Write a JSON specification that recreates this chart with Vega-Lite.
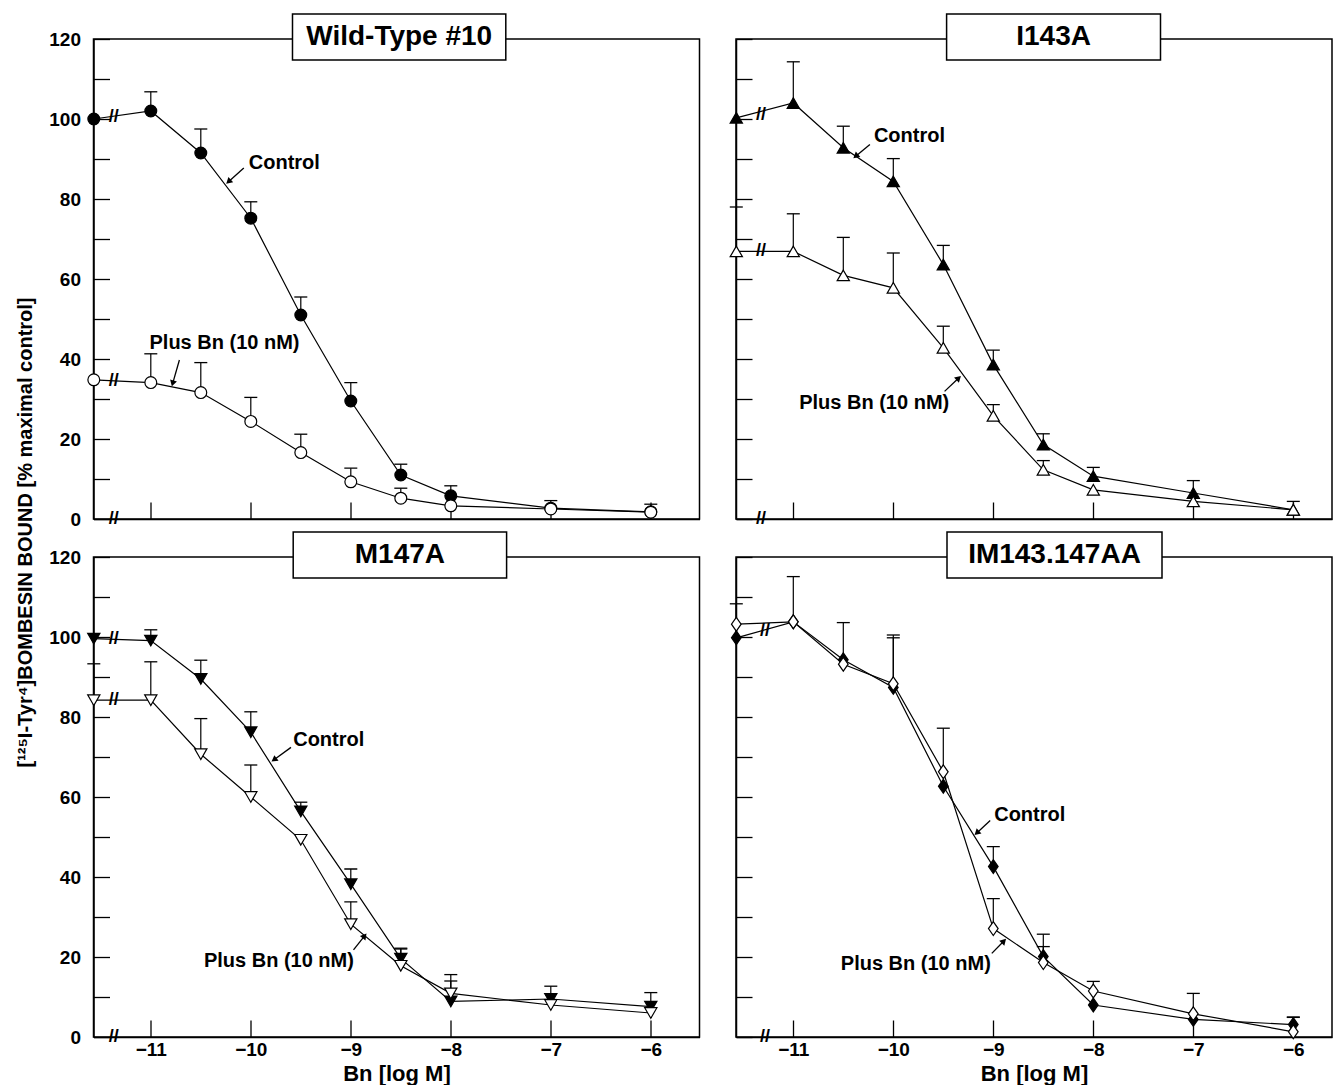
{
"$schema": "https://vega.github.io/schema/vega-lite/v6.json",
"background": "white",
"padding": {"left": 14.5, "top": 12, "right": 0, "bottom": 0},
"autosize": {"type": "pad"},
"config": {
 "font": "Liberation Sans",
 "view": {"stroke": "black", "strokeWidth": 1.5},
 "axis": {"domainColor": "black", "domainWidth": 1.5, "tickColor": "black", "tickWidth": 1.3, "labelFontWeight": "bold", "labelFontSize": 19, "labelColor": "black", "titleFontWeight": "bold", "titleFontSize": 20, "titleColor": "black", "grid": false, "labelFlush": false, "labelOverlap": false}
},
"datasets": {
 "pts": [
  {"p":"WT","s":"Control","x":-11.57,"y":100,"hi":null},
  {"p":"WT","s":"Control","x":-11,"y":102,"hi":106.8},
  {"p":"WT","s":"Control","x":-10.5,"y":91.5,"hi":97.5},
  {"p":"WT","s":"Control","x":-10,"y":75.2,"hi":79.3},
  {"p":"WT","s":"Control","x":-9.5,"y":51,"hi":55.5},
  {"p":"WT","s":"Control","x":-9,"y":29.5,"hi":34.1},
  {"p":"WT","s":"Control","x":-8.5,"y":11,"hi":13.7},
  {"p":"WT","s":"Control","x":-8,"y":5.8,"hi":8.3},
  {"p":"WT","s":"Control","x":-7,"y":2.7,"hi":4.6},
  {"p":"WT","s":"Control","x":-6,"y":1.8,"hi":3.7},
  {"p":"WT","s":"Plus","x":-11.57,"y":34.8,"hi":null},
  {"p":"WT","s":"Plus","x":-11,"y":34.1,"hi":41.3},
  {"p":"WT","s":"Plus","x":-10.5,"y":31.6,"hi":39.1},
  {"p":"WT","s":"Plus","x":-10,"y":24.4,"hi":30.4},
  {"p":"WT","s":"Plus","x":-9.5,"y":16.6,"hi":21.2},
  {"p":"WT","s":"Plus","x":-9,"y":9.3,"hi":12.7},
  {"p":"WT","s":"Plus","x":-8.5,"y":5.2,"hi":7.7},
  {"p":"WT","s":"Plus","x":-8,"y":3.3,"hi":null},
  {"p":"WT","s":"Plus","x":-7,"y":2.5,"hi":null},
  {"p":"WT","s":"Plus","x":-6,"y":1.7,"hi":null},
  {"p":"I143A","s":"Control","x":-11.57,"y":100.3,"hi":null},
  {"p":"I143A","s":"Control","x":-11,"y":104,"hi":114.3},
  {"p":"I143A","s":"Control","x":-10.5,"y":92.8,"hi":98.2},
  {"p":"I143A","s":"Control","x":-10,"y":84.4,"hi":90.1},
  {"p":"I143A","s":"Control","x":-9.5,"y":63.6,"hi":68.4},
  {"p":"I143A","s":"Control","x":-9,"y":38.6,"hi":42.2},
  {"p":"I143A","s":"Control","x":-8.5,"y":18.6,"hi":21.3},
  {"p":"I143A","s":"Control","x":-8,"y":10.7,"hi":12.9},
  {"p":"I143A","s":"Control","x":-7,"y":6.5,"hi":9.6},
  {"p":"I143A","s":"Control","x":-6,"y":2.3,"hi":4.4},
  {"p":"I143A","s":"Plus","x":-11.57,"y":66.9,"hi":78},
  {"p":"I143A","s":"Plus","x":-11,"y":66.9,"hi":76.3},
  {"p":"I143A","s":"Plus","x":-10.5,"y":60.9,"hi":70.4},
  {"p":"I143A","s":"Plus","x":-10,"y":57.8,"hi":66.5},
  {"p":"I143A","s":"Plus","x":-9.5,"y":42.8,"hi":48.2},
  {"p":"I143A","s":"Plus","x":-9,"y":25.8,"hi":28.6},
  {"p":"I143A","s":"Plus","x":-8.5,"y":12.3,"hi":14.6},
  {"p":"I143A","s":"Plus","x":-8,"y":7.3,"hi":null},
  {"p":"I143A","s":"Plus","x":-7,"y":4.4,"hi":null},
  {"p":"I143A","s":"Plus","x":-6,"y":2.3,"hi":null},
  {"p":"M147A","s":"Control","x":-11.57,"y":99.6,"hi":null},
  {"p":"M147A","s":"Control","x":-11,"y":99.1,"hi":101.8},
  {"p":"M147A","s":"Control","x":-10.5,"y":89.5,"hi":94.2},
  {"p":"M147A","s":"Control","x":-10,"y":76.2,"hi":81.3},
  {"p":"M147A","s":"Control","x":-9.5,"y":56.4,"hi":58.7},
  {"p":"M147A","s":"Control","x":-9,"y":38.2,"hi":42},
  {"p":"M147A","s":"Control","x":-8.5,"y":19.6,"hi":22.2},
  {"p":"M147A","s":"Control","x":-8,"y":8.9,"hi":15.6},
  {"p":"M147A","s":"Control","x":-7,"y":9.5,"hi":12.7},
  {"p":"M147A","s":"Control","x":-6,"y":7.6,"hi":11.1},
  {"p":"M147A","s":"Plus","x":-11.57,"y":84.2,"hi":93.3},
  {"p":"M147A","s":"Plus","x":-11,"y":84.2,"hi":93.8},
  {"p":"M147A","s":"Plus","x":-10.5,"y":70.7,"hi":79.6},
  {"p":"M147A","s":"Plus","x":-10,"y":60,"hi":68},
  {"p":"M147A","s":"Plus","x":-9.5,"y":49.3,"hi":null},
  {"p":"M147A","s":"Plus","x":-9,"y":28.2,"hi":33.8},
  {"p":"M147A","s":"Plus","x":-8.5,"y":17.8,"hi":22},
  {"p":"M147A","s":"Plus","x":-8,"y":10.9,"hi":14},
  {"p":"M147A","s":"Plus","x":-7,"y":8,"hi":null},
  {"p":"M147A","s":"Plus","x":-6,"y":6,"hi":null},
  {"p":"IM","s":"Control","x":-11.57,"y":99.8,"hi":null},
  {"p":"IM","s":"Control","x":-11,"y":103.8,"hi":115.1},
  {"p":"IM","s":"Control","x":-10.5,"y":94.3,"hi":103.6},
  {"p":"IM","s":"Control","x":-10,"y":87.4,"hi":100.5},
  {"p":"IM","s":"Control","x":-9.5,"y":62.7,"hi":null},
  {"p":"IM","s":"Control","x":-9,"y":42.6,"hi":47.6},
  {"p":"IM","s":"Control","x":-8.5,"y":20.1,"hi":22.6},
  {"p":"IM","s":"Control","x":-8,"y":8,"hi":null},
  {"p":"IM","s":"Control","x":-7,"y":4.4,"hi":null},
  {"p":"IM","s":"Control","x":-6,"y":3.1,"hi":4.9},
  {"p":"IM","s":"Plus","x":-11.57,"y":103.2,"hi":108.3},
  {"p":"IM","s":"Plus","x":-11,"y":103.8,"hi":null},
  {"p":"IM","s":"Plus","x":-10.5,"y":93.2,"hi":null},
  {"p":"IM","s":"Plus","x":-10,"y":88.3,"hi":99.8},
  {"p":"IM","s":"Plus","x":-9.5,"y":66.3,"hi":77.2},
  {"p":"IM","s":"Plus","x":-9,"y":27.1,"hi":34.6},
  {"p":"IM","s":"Plus","x":-8.5,"y":18.6,"hi":25.7},
  {"p":"IM","s":"Plus","x":-8,"y":11.5,"hi":13.9},
  {"p":"IM","s":"Plus","x":-7,"y":5.8,"hi":10.9},
  {"p":"IM","s":"Plus","x":-6,"y":1.3,"hi":5}
 ],
 "ann": [
  {"p":"WT","k":"box","t":"","x":-9.583,"y":126.25,"x2":-7.45,"y2":114.75},
  {"p":"WT","k":"title","t":"Wild-Type #10","x":-8.516,"y":120.5},
  {"p":"WT","k":"label","t":"Control","x":-10.02,"y":89},
  {"p":"WT","k":"label","t":"Plus Bn (10 nM)","x":-11.013,"y":43.9},
  {"p":"WT","k":"arrow","t":"","x":-10.223,"y":84.3,"x2":-10.07,"y2":87.75},
  {"p":"WT","k":"arrow","t":"","x":-10.781,"y":33.9,"x2":-10.714,"y2":39.75},
  {"p":"WT","k":"brk","t":"//","x":-11.37,"y":0},
  {"p":"WT","k":"brk","t":"//","x":-11.37,"y":100.5},
  {"p":"WT","k":"brk","t":"//","x":-11.37,"y":34.5},
  {"p":"I143A","k":"box","t":"","x":-9.467,"y":126.25,"x2":-7.328,"y2":114.75},
  {"p":"I143A","k":"title","t":"I143A","x":-8.397,"y":120.5},
  {"p":"I143A","k":"label","t":"Control","x":-10.194,"y":95.7},
  {"p":"I143A","k":"label","t":"Plus Bn (10 nM)","x":-10.941,"y":29},
  {"p":"I143A","k":"arrow","t":"","x":-10.376,"y":90.7,"x2":-10.234,"y2":93.6},
  {"p":"I143A","k":"arrow","t":"","x":-9.346,"y":35.25,"x2":-9.487,"y2":31.9},
  {"p":"I143A","k":"brk","t":"//","x":-11.324,"y":0},
  {"p":"I143A","k":"brk","t":"//","x":-11.324,"y":101},
  {"p":"I143A","k":"brk","t":"//","x":-11.324,"y":66.9},
  {"p":"M147A","k":"box","t":"","x":-9.576,"y":126.25,"x2":-7.442,"y2":114.75},
  {"p":"M147A","k":"title","t":"M147A","x":-8.509,"y":120.5},
  {"p":"M147A","k":"label","t":"Control","x":-9.576,"y":74.2},
  {"p":"M147A","k":"label","t":"Plus Bn (10 nM)","x":-10.469,"y":19.1},
  {"p":"M147A","k":"arrow","t":"","x":-9.768,"y":69.3,"x2":-9.598,"y2":72.4},
  {"p":"M147A","k":"arrow","t":"","x":-8.862,"y":25.3,"x2":-8.973,"y2":21.8},
  {"p":"M147A","k":"brk","t":"//","x":-11.37,"y":0},
  {"p":"M147A","k":"brk","t":"//","x":-11.37,"y":99.4},
  {"p":"M147A","k":"brk","t":"//","x":-11.37,"y":84.2},
  {"p":"IM","k":"box","t":"","x":-9.463,"y":126.25,"x2":-7.313,"y2":114.75},
  {"p":"IM","k":"title","t":"IM143.147AA","x":-8.388,"y":120.5},
  {"p":"IM","k":"label","t":"Control","x":-8.991,"y":55.6},
  {"p":"IM","k":"label","t":"Plus Bn (10 nM)","x":-10.525,"y":18.2},
  {"p":"IM","k":"arrow","t":"","x":-9.165,"y":51,"x2":-9.031,"y2":54.1},
  {"p":"IM","k":"arrow","t":"","x":-8.894,"y":24,"x2":-9.015,"y2":20.9},
  {"p":"IM","k":"brk","t":"//","x":-11.284,"y":0},
  {"p":"IM","k":"brk","t":"//","x":-11.284,"y":101.5}
 ]
},
"spacing": 26.5,
"hconcat": [
 {"vconcat": [
  {"width":606,"height":480,
   "encoding":{
    "x":{"field":"x","type":"quantitative","scale":{"domain":[-11.573,-5.513],"nice":false,"zero":false},"axis":{"values":[-11,-10,-9,-8,-7,-6],"tickSize":-17,"labels":false,"title":null}},
    "y":{"field":"y","type":"quantitative","scale":{"domain":[0,120],"nice":false,"zero":false},"axis":{"values":[0,10,20,30,40,50,60,70,80,90,100,110,120],"tickSize":-16,"labelPadding":29,"labelExpr":"datum.value % 20 == 0 ? datum.label : ''","title":"[¹²⁵I-Tyr⁴]BOMBESIN BOUND [% maximal control]","titleAngle":-90,"titleX":-68,"titleY":493,"titleAlign":"center","titleBaseline":"middle"}}
   },
   "layer":[
    {"data":{"name":"pts"},"transform":[{"filter":"datum.p=='WT'"}],"mark":{"type":"line","color":"black","strokeWidth":1.2},"encoding":{"detail":{"field":"s","type":"nominal"}}},
    {"data":{"name":"pts"},"transform":[{"filter":"datum.p=='WT' && isValid(datum.hi)"}],"mark":{"type":"rule","color":"black","strokeWidth":1.2},"encoding":{"y2":{"field":"hi"}}},
    {"data":{"name":"pts"},"transform":[{"filter":"datum.p=='WT' && isValid(datum.hi)"},{"fold":["hi"],"as":["kk","y"]}],"mark":{"type":"tick","orient":"horizontal","color":"black","thickness":1.3,"size":13,"opacity":1}},
    {"data":{"name":"pts"},"transform":[{"filter":"datum.p=='WT'"}],"mark":{"type":"point","filled":true,"stroke":"black","strokeWidth":1.2,"size":140,"opacity":1},"encoding":{
       "shape":{"field":"p","type":"nominal","scale":{"domain":["WT","I143A","M147A","IM"],"range":["circle","triangle-up","triangle-down","M0,-1L0.7,0L0,1L-0.7,0Z"]},"legend":null},
       "fill":{"field":"s","type":"nominal","scale":{"domain":["Control","Plus"],"range":["black","white"]},"legend":null}}},
    {"data":{"name":"ann"},"transform":[{"filter":"datum.p=='WT' && datum.k=='box'"}],"mark":{"type":"rect","fill":"white","stroke":"black","strokeWidth":1.5},"encoding":{"x2":{"field":"x2"},"y2":{"field":"y2"}}},
    {"data":{"name":"ann"},"transform":[{"filter":"datum.p=='WT' && datum.k=='title'"}],"mark":{"type":"text","fontSize":28,"fontWeight":"bold","align":"center","baseline":"middle","color":"black"},"encoding":{"text":{"field":"t","type":"nominal"}}},
    {"data":{"name":"ann"},"transform":[{"filter":"datum.p=='WT' && datum.k=='label'"}],"mark":{"type":"text","fontSize":20,"fontWeight":"bold","align":"left","baseline":"middle","color":"black"},"encoding":{"text":{"field":"t","type":"nominal"}}},
    {"data":{"name":"ann"},"transform":[{"filter":"datum.p=='WT' && datum.k=='brk'"}],"mark":{"type":"text","fontSize":18,"fontWeight":"bold","align":"center","baseline":"middle","color":"black"},"encoding":{"text":{"field":"t","type":"nominal"}}},
    {"data":{"name":"ann"},"transform":[{"filter":"datum.p=='WT' && datum.k=='arrow'"}],"mark":{"type":"rule","color":"black","strokeWidth":1.3},"encoding":{"x2":{"field":"x2"},"y2":{"field":"y2"}}},
    {"data":{"name":"ann"},"transform":[{"filter":"datum.p=='WT' && datum.k=='arrow'"},{"calculate":"atan2((datum.x-datum.x2)*100,(datum.y-datum.y2)*4)*180/PI","as":"ang"}],"mark":{"type":"point","shape":"triangle-up","filled":true,"color":"black","size":50,"opacity":1},"encoding":{"angle":{"field":"ang","type":"quantitative","scale":null}}}
   ]},
  {"width":606,"height":480,
   "encoding":{
    "x":{"field":"x","type":"quantitative","scale":{"domain":[-11.573,-5.513],"nice":false,"zero":false},"axis":{"values":[-11,-10,-9,-8,-7,-6],"tickSize":-17,"labelPadding":20,"labelExpr":"replace(datum.label,'-','−')","title":"Bn [log M]","titleFontSize":22,"titlePadding":4}},
    "y":{"field":"y","type":"quantitative","scale":{"domain":[0,120],"nice":false,"zero":false},"axis":{"values":[0,10,20,30,40,50,60,70,80,90,100,110,120],"tickSize":-16,"labelPadding":29,"labelExpr":"datum.value % 20 == 0 ? datum.label : ''","title":null}}
   },
   "layer":[
    {"data":{"name":"pts"},"transform":[{"filter":"datum.p=='M147A'"}],"mark":{"type":"line","color":"black","strokeWidth":1.2},"encoding":{"detail":{"field":"s","type":"nominal"}}},
    {"data":{"name":"pts"},"transform":[{"filter":"datum.p=='M147A' && isValid(datum.hi)"}],"mark":{"type":"rule","color":"black","strokeWidth":1.2},"encoding":{"y2":{"field":"hi"}}},
    {"data":{"name":"pts"},"transform":[{"filter":"datum.p=='M147A' && isValid(datum.hi)"},{"fold":["hi"],"as":["kk","y"]}],"mark":{"type":"tick","orient":"horizontal","color":"black","thickness":1.3,"size":13,"opacity":1}},
    {"data":{"name":"pts"},"transform":[{"filter":"datum.p=='M147A'"}],"mark":{"type":"point","filled":true,"stroke":"black","strokeWidth":1.2,"size":150,"opacity":1},"encoding":{
       "shape":{"field":"p","type":"nominal","scale":{"domain":["WT","I143A","M147A","IM"],"range":["circle","triangle-up","triangle-down","M0,-1L0.7,0L0,1L-0.7,0Z"]},"legend":null},
       "fill":{"field":"s","type":"nominal","scale":{"domain":["Control","Plus"],"range":["black","white"]},"legend":null}}},
    {"data":{"name":"ann"},"transform":[{"filter":"datum.p=='M147A' && datum.k=='box'"}],"mark":{"type":"rect","fill":"white","stroke":"black","strokeWidth":1.5},"encoding":{"x2":{"field":"x2"},"y2":{"field":"y2"}}},
    {"data":{"name":"ann"},"transform":[{"filter":"datum.p=='M147A' && datum.k=='title'"}],"mark":{"type":"text","fontSize":28,"fontWeight":"bold","align":"center","baseline":"middle","color":"black"},"encoding":{"text":{"field":"t","type":"nominal"}}},
    {"data":{"name":"ann"},"transform":[{"filter":"datum.p=='M147A' && datum.k=='label'"}],"mark":{"type":"text","fontSize":20,"fontWeight":"bold","align":"left","baseline":"middle","color":"black"},"encoding":{"text":{"field":"t","type":"nominal"}}},
    {"data":{"name":"ann"},"transform":[{"filter":"datum.p=='M147A' && datum.k=='brk'"}],"mark":{"type":"text","fontSize":18,"fontWeight":"bold","align":"center","baseline":"middle","color":"black"},"encoding":{"text":{"field":"t","type":"nominal"}}},
    {"data":{"name":"ann"},"transform":[{"filter":"datum.p=='M147A' && datum.k=='arrow'"}],"mark":{"type":"rule","color":"black","strokeWidth":1.3},"encoding":{"x2":{"field":"x2"},"y2":{"field":"y2"}}},
    {"data":{"name":"ann"},"transform":[{"filter":"datum.p=='M147A' && datum.k=='arrow'"},{"calculate":"atan2((datum.x-datum.x2)*100,(datum.y-datum.y2)*4)*180/PI","as":"ang"}],"mark":{"type":"point","shape":"triangle-up","filled":true,"color":"black","size":50,"opacity":1},"encoding":{"angle":{"field":"ang","type":"quantitative","scale":null}}}
   ]}
 ], "spacing": 38, "bounds": "flush"},
 {"vconcat": [
  {"width":596,"height":480,
   "encoding":{
    "x":{"field":"x","type":"quantitative","scale":{"domain":[-11.573,-5.613],"nice":false,"zero":false},"axis":{"values":[-11,-10,-9,-8,-7,-6],"tickSize":-17,"labels":false,"title":null}},
    "y":{"field":"y","type":"quantitative","scale":{"domain":[0,120],"nice":false,"zero":false},"axis":{"values":[0,10,20,30,40,50,60,70,80,90,100,110,120],"tickSize":-16,"labels":false,"title":null}}
   },
   "layer":[
    {"data":{"name":"pts"},"transform":[{"filter":"datum.p=='I143A'"}],"mark":{"type":"line","color":"black","strokeWidth":1.2},"encoding":{"detail":{"field":"s","type":"nominal"}}},
    {"data":{"name":"pts"},"transform":[{"filter":"datum.p=='I143A' && isValid(datum.hi)"}],"mark":{"type":"rule","color":"black","strokeWidth":1.2},"encoding":{"y2":{"field":"hi"}}},
    {"data":{"name":"pts"},"transform":[{"filter":"datum.p=='I143A' && isValid(datum.hi)"},{"fold":["hi"],"as":["kk","y"]}],"mark":{"type":"tick","orient":"horizontal","color":"black","thickness":1.3,"size":13,"opacity":1}},
    {"data":{"name":"pts"},"transform":[{"filter":"datum.p=='I143A'"}],"mark":{"type":"point","filled":true,"stroke":"black","strokeWidth":1.2,"size":150,"opacity":1},"encoding":{
       "shape":{"field":"p","type":"nominal","scale":{"domain":["WT","I143A","M147A","IM"],"range":["circle","triangle-up","triangle-down","M0,-1L0.7,0L0,1L-0.7,0Z"]},"legend":null},
       "fill":{"field":"s","type":"nominal","scale":{"domain":["Control","Plus"],"range":["black","white"]},"legend":null}}},
    {"data":{"name":"ann"},"transform":[{"filter":"datum.p=='I143A' && datum.k=='box'"}],"mark":{"type":"rect","fill":"white","stroke":"black","strokeWidth":1.5},"encoding":{"x2":{"field":"x2"},"y2":{"field":"y2"}}},
    {"data":{"name":"ann"},"transform":[{"filter":"datum.p=='I143A' && datum.k=='title'"}],"mark":{"type":"text","fontSize":28,"fontWeight":"bold","align":"center","baseline":"middle","color":"black"},"encoding":{"text":{"field":"t","type":"nominal"}}},
    {"data":{"name":"ann"},"transform":[{"filter":"datum.p=='I143A' && datum.k=='label'"}],"mark":{"type":"text","fontSize":20,"fontWeight":"bold","align":"left","baseline":"middle","color":"black"},"encoding":{"text":{"field":"t","type":"nominal"}}},
    {"data":{"name":"ann"},"transform":[{"filter":"datum.p=='I143A' && datum.k=='brk'"}],"mark":{"type":"text","fontSize":18,"fontWeight":"bold","align":"center","baseline":"middle","color":"black"},"encoding":{"text":{"field":"t","type":"nominal"}}},
    {"data":{"name":"ann"},"transform":[{"filter":"datum.p=='I143A' && datum.k=='arrow'"}],"mark":{"type":"rule","color":"black","strokeWidth":1.3},"encoding":{"x2":{"field":"x2"},"y2":{"field":"y2"}}},
    {"data":{"name":"ann"},"transform":[{"filter":"datum.p=='I143A' && datum.k=='arrow'"},{"calculate":"atan2((datum.x-datum.x2)*100,(datum.y-datum.y2)*4)*180/PI","as":"ang"}],"mark":{"type":"point","shape":"triangle-up","filled":true,"color":"black","size":50,"opacity":1},"encoding":{"angle":{"field":"ang","type":"quantitative","scale":null}}}
   ]},
  {"width":596,"height":480,
   "encoding":{
    "x":{"field":"x","type":"quantitative","scale":{"domain":[-11.573,-5.613],"nice":false,"zero":false},"axis":{"values":[-11,-10,-9,-8,-7,-6],"tickSize":-17,"labelPadding":20,"labelExpr":"replace(datum.label,'-','−')","title":"Bn [log M]","titleFontSize":22,"titlePadding":4}},
    "y":{"field":"y","type":"quantitative","scale":{"domain":[0,120],"nice":false,"zero":false},"axis":{"values":[0,10,20,30,40,50,60,70,80,90,100,110,120],"tickSize":-16,"labels":false,"title":null}}
   },
   "layer":[
    {"data":{"name":"pts"},"transform":[{"filter":"datum.p=='IM'"}],"mark":{"type":"line","color":"black","strokeWidth":1.2},"encoding":{"detail":{"field":"s","type":"nominal"}}},
    {"data":{"name":"pts"},"transform":[{"filter":"datum.p=='IM' && isValid(datum.hi)"}],"mark":{"type":"rule","color":"black","strokeWidth":1.2},"encoding":{"y2":{"field":"hi"}}},
    {"data":{"name":"pts"},"transform":[{"filter":"datum.p=='IM' && isValid(datum.hi)"},{"fold":["hi"],"as":["kk","y"]}],"mark":{"type":"tick","orient":"horizontal","color":"black","thickness":1.3,"size":13,"opacity":1}},
    {"data":{"name":"pts"},"transform":[{"filter":"datum.p=='IM'"}],"mark":{"type":"point","filled":true,"stroke":"black","strokeWidth":1.2,"size":190,"opacity":1},"encoding":{
       "shape":{"field":"p","type":"nominal","scale":{"domain":["WT","I143A","M147A","IM"],"range":["circle","triangle-up","triangle-down","M0,-1L0.7,0L0,1L-0.7,0Z"]},"legend":null},
       "fill":{"field":"s","type":"nominal","scale":{"domain":["Control","Plus"],"range":["black","white"]},"legend":null}}},
    {"data":{"name":"ann"},"transform":[{"filter":"datum.p=='IM' && datum.k=='box'"}],"mark":{"type":"rect","fill":"white","stroke":"black","strokeWidth":1.5},"encoding":{"x2":{"field":"x2"},"y2":{"field":"y2"}}},
    {"data":{"name":"ann"},"transform":[{"filter":"datum.p=='IM' && datum.k=='title'"}],"mark":{"type":"text","fontSize":28,"fontWeight":"bold","align":"center","baseline":"middle","color":"black"},"encoding":{"text":{"field":"t","type":"nominal"}}},
    {"data":{"name":"ann"},"transform":[{"filter":"datum.p=='IM' && datum.k=='label'"}],"mark":{"type":"text","fontSize":20,"fontWeight":"bold","align":"left","baseline":"middle","color":"black"},"encoding":{"text":{"field":"t","type":"nominal"}}},
    {"data":{"name":"ann"},"transform":[{"filter":"datum.p=='IM' && datum.k=='brk'"}],"mark":{"type":"text","fontSize":18,"fontWeight":"bold","align":"center","baseline":"middle","color":"black"},"encoding":{"text":{"field":"t","type":"nominal"}}},
    {"data":{"name":"ann"},"transform":[{"filter":"datum.p=='IM' && datum.k=='arrow'"}],"mark":{"type":"rule","color":"black","strokeWidth":1.3},"encoding":{"x2":{"field":"x2"},"y2":{"field":"y2"}}},
    {"data":{"name":"ann"},"transform":[{"filter":"datum.p=='IM' && datum.k=='arrow'"},{"calculate":"atan2((datum.x-datum.x2)*100,(datum.y-datum.y2)*4)*180/PI","as":"ang"}],"mark":{"type":"point","shape":"triangle-up","filled":true,"color":"black","size":50,"opacity":1},"encoding":{"angle":{"field":"ang","type":"quantitative","scale":null}}}
   ]}
 ], "spacing": 38, "bounds": "flush"}
]
}
